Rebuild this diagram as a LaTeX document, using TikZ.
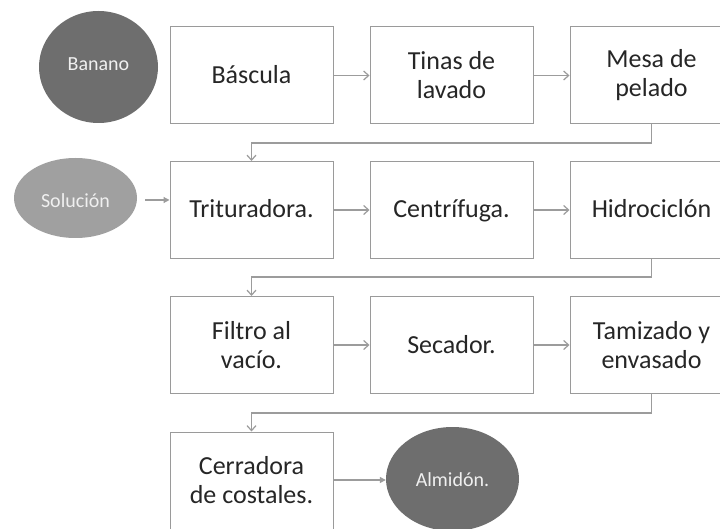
\documentclass[tikz,border=0pt]{standalone}
\usepackage{fontspec}
\setmainfont{Carlito}
\usetikzlibrary{shapes.geometric,arrows.meta}
\definecolor{boxline}{HTML}{9A9A9A}
\definecolor{arrline}{HTML}{9C9C9C}
\definecolor{darkell}{HTML}{6E6E6E}
\definecolor{lightell}{HTML}{A0A0A0}
\tikzset{
  stepbox/.style={draw=boxline, line width=1pt, rectangle, minimum width=163pt, minimum height=97pt, inner sep=0pt, align=center, font=\fontsize{26}{29}\selectfont, text=black!85},
  oneline/.style={text height=20pt, text depth=4pt},
  ell/.style={ellipse, inner sep=0pt, text=white!94!black, font=\fontsize{20}{23}\selectfont, text height=13pt, text depth=5pt},
  flow/.style={draw=arrline, line width=1.2pt, -{Straight Barb[length=5pt,width=9pt]}},
  flowt/.style={draw=arrline, line width=1.2pt, -{Triangle[length=6pt,width=6pt]}}
}
\begin{document}
\begin{tikzpicture}[x=1pt,y=1pt]
\path[use as bounding box, clip] (0,0) rectangle (720,528);
\fill[white] (0,0) rectangle (720,528);
% row 1
\node[stepbox, oneline] (bas) at (251.5,452.5) {Báscula};
\node[stepbox] (tin) at (451.5,452.5) {Tinas de\\lavado};
\node[stepbox] (mes) at (651.5,452.5) {Mesa de\\pelado};
% row 2
\node[stepbox, oneline] (tri) at (251.5,318) {Trituradora.};
\node[stepbox, oneline] (cen) at (451.5,318) {Centrífuga.};
\node[stepbox, oneline] (hid) at (651.5,318) {Hidrociclón};
% row 3
\node[stepbox] (fil) at (251.5,183) {Filtro al\\vacío.};
\node[stepbox, oneline] (sec) at (451.5,183) {Secador.};
\node[stepbox] (tam) at (651.5,183) {Tamizado y\\envasado};
% row 4
\node[stepbox] (cer) at (251.5,47.5) {Cerradora\\de costales.};
% ellipses
\node[ell, fill=darkell, minimum width=119pt, minimum height=112pt] (ban) at (98.5,461) {Banano};
\node[ell, fill=lightell, minimum width=123pt, minimum height=80pt, text height=22pt, text depth=2pt] (sol) at (75.5,330) {Solución};
\node[ell, fill=darkell, minimum width=133pt, minimum height=104pt, text height=17pt, text depth=3pt] (alm) at (452.5,49) {Almidón.};
% horizontal arrows
\draw[flow] (bas) -- (tin);
\draw[flow] (tin) -- (mes);
\draw[flow] (tri) -- (cen);
\draw[flow] (cen) -- (hid);
\draw[flow] (fil) -- (sec);
\draw[flow] (sec) -- (tam);
\coordinate (solout) at (145,328);
\draw[flowt] (solout) -- (tri.west |- solout);
\draw[flowt] (cer.east |- 0,48) -- (alm.west |- 0,48);
% elbow connectors
\coordinate (k1) at (651.5,385);
\coordinate (k2) at (651.5,251);
\coordinate (k3) at (651.5,115);
\draw[flow] (mes.south) -- (k1) -| (tri.north);
\draw[flow] (hid.south) -- (k2) -| (fil.north);
\draw[flow] (tam.south) -- (k3) -| (cer.north);
\end{tikzpicture}
\end{document}
